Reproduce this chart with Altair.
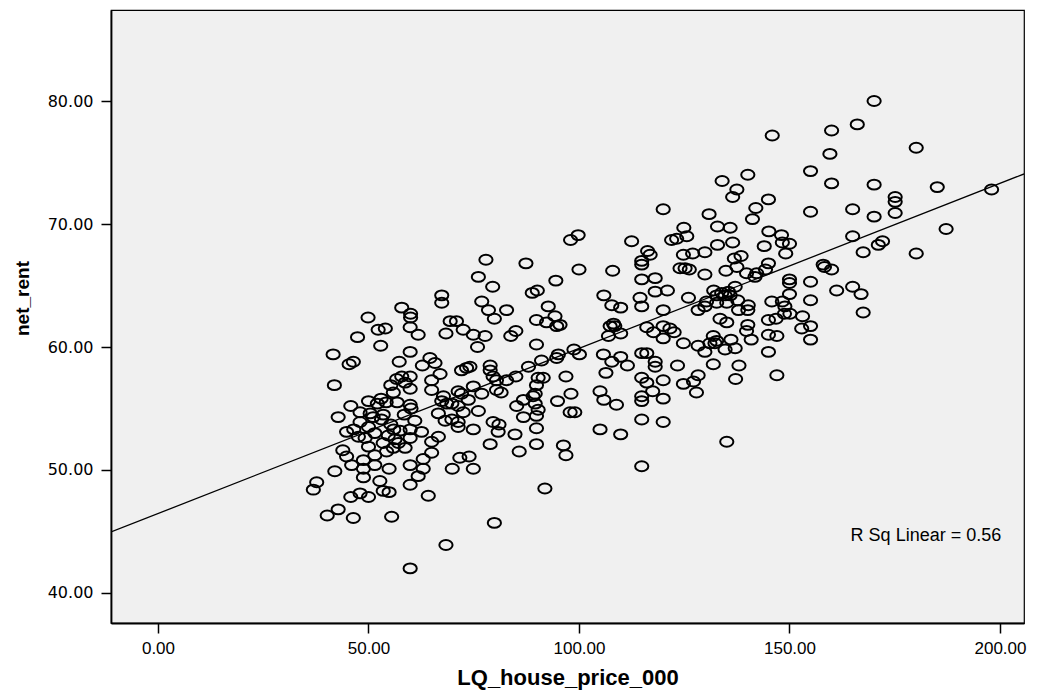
import altair as alt
import pandas as pd

# LQ_house_price_000 values (x) and net_rent values (y)
house_price = [
    57.9, 49.9, 60.0, 60.0, 52.3, 54.0, 59.9, 61.8, 47.4, 52.9, 59.9, 41.6, 45.4, 46.4, 57.3, 62.8,
    41.9, 55.3, 56.7, 57.9, 59.9, 58.7, 59.9, 55.9, 53.0, 54.2, 50.0, 52.1, 56.8, 59.9, 60.1, 45.8,
    48.0, 50.4, 53.5, 42.8,
    48.0, 53.1, 50.0, 44.8, 61.0, 59.9, 62.6, 47.6, 49.2, 50.0, 53.5, 54.7, 56.3, 57.1, 55.9, 54.3,
    59.9, 58.7, 43.9, 44.8, 46.0, 48.8, 51.5, 48.8, 51.5, 48.8, 54.9, 42.0, 59.9, 63.0, 63.0, 61.8,
    59.9, 37.7, 36.9, 52.7, 53.5, 54.9, 48.0, 50.0, 45.8, 64.2, 42.8, 40.2, 46.4, 55.5, 59.9,
    51.1, 56.0, 57.5, 55.3, 51.5, 46.5, 58.5,
    77.9, 87.4, 76.1, 79.5, 67.4, 67.4, 76.9, 78.5, 79.9, 82.8, 88.9, 90.1, 92.7, 89.9, 92.3, 69.4,
    70.9, 72.5, 68.4, 74.9, 77.7, 75.9, 83.8, 85.0, 89.9, 64.6, 65.8, 67.0, 65.0, 65.0, 72.1, 73.3,
    74.1, 78.9, 78.9, 79.6, 80.4, 82.8, 85.0, 88.0, 91.1, 90.3, 91.5, 89.9, 89.6, 74.9, 71.3, 72.1,
    76.9, 80.4, 81.5, 67.8, 67.4, 68.6, 69.8, 73.7, 86.8, 89.1, 89.6, 85.2, 71.3, 72.5, 76.1, 66.6,
    90.3, 89.9,
    68.2, 69.8, 71.3, 71.3, 74.9, 79.6, 81.0, 80.8, 78.9, 84.8, 86.8, 89.9, 85.8, 89.9, 66.6, 65.0,
    65.0, 71.7, 73.9, 69.9, 74.9, 91.9, 79.9, 68.4,
    120.0, 99.8, 98.0, 112.5, 124.9, 122.0, 123.2, 125.6, 116.3, 116.9, 114.9, 114.9, 124.8, 127.0,
    124.0, 125.2, 126.2, 100.0, 108.0, 94.5, 114.9, 118.1, 118.1, 121.0, 105.9, 107.8, 109.9, 114.5,
    114.9, 126.0, 94.3, 94.7, 95.5, 120.0, 108.2, 108.5, 107.4, 107.0, 109.9, 116.1, 117.7, 120.0,
    121.6, 122.6, 120.0, 124.8, 95.1, 94.7, 98.8, 100.1, 105.8, 107.8, 109.9, 111.5, 114.9, 116.1,
    118.1, 118.1, 123.4, 106.4, 96.9, 114.9, 116.1, 120.0, 124.8, 127.2, 105.0, 105.9, 108.9, 98.1,
    94.9, 114.9, 114.9, 117.5, 120.0, 97.9, 99.0, 114.9, 120.0, 105.0, 109.9, 96.3, 96.9, 114.9,
    145.9, 160.0, 159.6, 155.0, 160.0, 140.1, 134.0, 137.5, 136.5, 145.0, 142.0, 141.2, 155.0, 130.9,
    132.9, 135.9, 145.1, 148.1, 148.3, 150.0, 149.1, 144.0, 136.5, 132.9, 129.9, 136.9, 138.5, 137.5,
    134.9, 129.9, 139.8, 142.2, 141.8, 144.3, 145.0, 158.0, 158.3, 160.0, 150.0, 150.0, 155.0, 161.2,
    132.0, 133.9, 135.5, 137.1, 132.7, 134.7, 135.9, 130.3, 129.9, 128.3, 132.7, 135.1, 137.7, 137.9,
    140.2, 140.1, 150.0, 145.8, 148.3, 148.9, 148.8, 150.1, 155.0, 153.1, 145.0, 146.8, 133.5, 135.1,
    140.1, 139.8, 140.9, 152.9, 155.0, 155.0, 145.0, 147.0, 131.9, 132.7, 131.1, 129.9, 128.3, 136.1,
    137.1, 134.7, 132.3, 145.0, 131.9, 138.0, 137.2, 147.0, 128.3, 127.9, 135.1,
    170.1, 166.1, 180.1, 170.1, 185.1, 175.1, 175.1, 165.0, 170.1, 175.1, 198.0, 165.0, 172.1, 171.1,
    167.5, 180.1, 187.2, 165.0, 167.0, 167.5,
]
net_rent = [
    63.2, 62.4, 62.7, 62.4, 61.4, 61.5, 61.6, 61.0, 60.8, 60.1, 59.6, 59.4, 58.6, 58.8, 58.8, 58.5,
    56.9, 56.9, 57.4, 57.6, 57.6, 57.1, 56.6, 56.3, 55.8, 55.5, 55.6, 55.4, 55.5, 55.3, 55.0, 55.2,
    54.7, 54.6, 54.5, 54.3,
    53.9, 54.1, 53.5, 53.1, 54.0, 53.3, 53.1, 52.7, 52.6, 51.9, 52.2, 52.8, 52.5, 52.2, 51.8, 51.5,
    52.6, 51.8, 51.6, 51.1, 50.4, 50.8, 51.2, 50.1, 50.4, 49.4, 50.1, 49.9, 50.4, 50.9, 50.1, 49.5,
    48.8, 49.0, 48.4, 49.1, 48.3, 48.2, 48.1, 47.8, 47.8, 47.9, 46.8, 46.3, 46.1, 46.2, 42.0,
    54.3, 53.3, 53.2, 53.7, 53.0, 53.3, 54.5,
    67.1, 66.8, 65.7, 64.9, 64.2, 63.6, 63.7, 63.0, 62.3, 63.0, 64.4, 64.6, 63.3, 62.2, 62.0, 62.1,
    62.1, 61.4, 61.1, 61.0, 60.9, 60.0, 60.9, 61.3, 60.2, 59.1, 58.7, 57.8, 57.3, 56.5, 58.1, 58.3,
    58.4, 58.5, 58.1, 57.6, 57.3, 57.3, 57.6, 58.4, 58.9, 57.5, 57.5, 56.9, 56.2, 56.8, 56.4, 56.2,
    56.2, 56.5, 56.3, 56.0, 55.6, 55.4, 55.4, 55.7, 55.7, 56.0, 55.4, 55.2, 55.2, 54.7, 54.8, 54.6,
    54.9, 54.4,
    54.0, 54.1, 53.9, 53.5, 53.3, 53.9, 53.7, 53.1, 52.1, 52.9, 54.3, 53.4, 51.5, 52.1, 52.7, 52.3,
    51.4, 51.0, 51.1, 50.1, 50.1, 48.5, 45.7, 43.9,
    71.2, 69.1, 68.7, 68.6, 69.7, 68.7, 68.8, 69.0, 67.8, 67.5, 67.0, 66.7, 67.5, 67.6,
    66.4, 66.4, 66.3, 66.3, 66.2, 65.4, 65.5, 65.6, 64.5, 64.6, 64.2, 63.4, 63.2, 64.0,
    63.3, 64.0, 62.5, 61.7, 61.8, 63.0, 61.9, 61.7, 61.7, 60.9, 61.1, 61.6, 61.2, 61.7,
    61.5, 61.2, 60.7, 60.3, 59.4, 59.1, 59.8, 59.4, 59.4, 58.8, 59.2, 58.5, 59.5, 59.5,
    58.8, 58.4, 58.5, 57.9, 57.6, 57.5, 57.1, 57.3, 57.0, 57.2, 56.4, 55.7, 55.3, 56.2,
    55.6, 56.0, 55.6, 56.4, 55.8, 54.7, 54.7, 54.1, 53.9, 53.3, 52.9, 52.0, 51.2, 50.3,
    77.2, 77.6, 75.7, 74.3, 73.3, 74.0, 73.5, 72.8, 72.2, 72.0, 71.3, 70.4, 71.0, 70.8,
    69.8, 69.7, 69.4, 69.1, 68.5, 68.4, 67.6, 68.2, 68.5, 68.3, 67.7, 67.2, 67.4, 66.5,
    66.2, 65.9, 66.0, 66.0, 65.7, 66.3, 66.8, 66.7, 66.5, 66.3, 65.5, 65.2, 65.3, 64.6,
    64.6, 64.4, 64.5, 64.9, 64.2, 64.2, 64.2, 63.7, 63.3, 63.0, 63.6, 63.6, 63.8, 63.0,
    63.4, 63.0, 64.3, 63.7, 63.7, 63.3, 62.7, 62.7, 63.8, 62.5, 62.2, 62.3, 62.3, 62.0,
    61.8, 61.3, 60.6, 61.5, 61.7, 60.6, 61.0, 60.9, 60.9, 60.5, 60.3, 59.6, 60.1, 60.6,
    59.9, 59.8, 60.3, 59.6, 58.6, 58.5, 57.4, 57.7, 57.7, 56.3, 52.3,
    80.0, 78.1, 76.2, 73.2, 73.0, 72.2, 71.8, 71.2, 70.6, 70.9, 72.8, 69.0, 68.6, 68.3,
    67.7, 67.6, 69.6, 64.9, 64.3, 62.8,
]

x_ticks = [0, 50, 100, 150, 200]
y_ticks = [40, 50, 60, 70, 80]
x_domain = [-11.16, 205.7]
y_domain = [37.56, 87.4]

# fit line as drawn in the reference (read at the two edges of the plot)
fit_x = [-11.16, 205.7]
fit_y = [44.96, 74.07]

annotation = ["R Sq Linear = 0.56"]
annotation_x = [182.4]
annotation_y = [44.6]

df = pd.DataFrame({"LQ_house_price_000": house_price, "net_rent": net_rent})
fit = pd.DataFrame({"LQ_house_price_000": fit_x, "net_rent": fit_y})
ann = pd.DataFrame({"x": annotation_x, "y": annotation_y, "label": annotation})

xs = alt.Scale(domain=x_domain, nice=False, zero=False)
ys = alt.Scale(domain=y_domain, nice=False, zero=False)

ellipse = "M -1.2 0 A 1.2 0.9 0 1 0 1.2 0 A 1.2 0.9 0 1 0 -1.2 0 Z"

points = alt.Chart(df).mark_point(
    shape=ellipse, size=121, filled=False, stroke="black", strokeWidth=2, opacity=1
).encode(
    x=alt.X("LQ_house_price_000:Q", scale=xs,
            axis=alt.Axis(values=x_ticks, format=".2f", title="LQ_house_price_000",
                          labelFont="Liberation Sans", labelFontSize=17,
                          titleFont="Liberation Sans", titleFontSize=22, titleFontWeight="bold",
                          titlePadding=11, labelPadding=7)),
    y=alt.Y("net_rent:Q", scale=ys,
            axis=alt.Axis(values=y_ticks, format=".2f", title="net_rent",
                          labelFont="DejaVu Sans", labelFontSize=16,
                          titleFont="Liberation Sans", titleFontSize=19, titleFontWeight="bold",
                          titleX=-89, titleY=288, titleBaseline="middle", titleAlign="center",
                          labelPadding=8)),
)

line = alt.Chart(fit).mark_line(color="black", strokeWidth=1.3, clip=True).encode(
    x=alt.X("LQ_house_price_000:Q", scale=xs),
    y=alt.Y("net_rent:Q", scale=ys),
)

text = alt.Chart(ann).mark_text(
    font="Liberation Sans", fontSize=18, color="black", align="center", baseline="middle"
).encode(
    x=alt.X("x:Q", scale=xs),
    y=alt.Y("y:Q", scale=ys),
    text="label:N",
)

chart = alt.layer(points, line, text).properties(
    width=913, height=613,
    autosize=alt.AutoSizeParams(type="none"),
    padding={"left": 103, "top": 2, "right": 6, "bottom": 71},
    background="white",
).configure_view(
    fill="#F0F0F0", stroke="black", strokeWidth=1.2
).configure_axis(
    grid=False, domainColor="black", domainWidth=1.8, tickColor="black", tickWidth=1.5,
    tickSize=10, labelColor="black", titleColor="black"
)

chart.save("out.html", embed_options={"renderer": "svg", "actions": False})
